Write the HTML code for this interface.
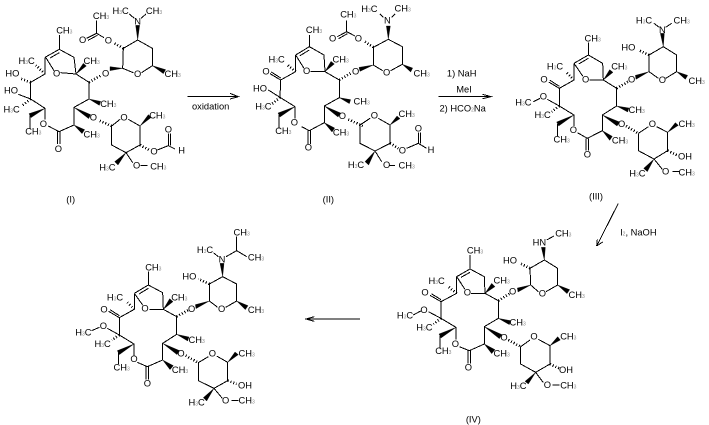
<!DOCTYPE html>
<html><head><meta charset="utf-8"><style>
html,body{margin:0;padding:0;background:#fff;width:709px;height:425px;overflow:hidden}
svg{display:block}
text{font-family:"Liberation Sans",sans-serif;font-size:28px;fill:#000;text-anchor:middle;dominant-baseline:central}
.s{font-size:15px;fill:#888}
.b{fill:none;stroke:#000;stroke-width:3;shape-rendering:crispEdges}
.h{fill:none;stroke:#000;stroke-width:8;stroke-dasharray:3 6;shape-rendering:crispEdges}
.w{fill:#000;stroke:#000;stroke-width:1}
</style></head><body>
<svg width="709" height="425" viewBox="0 0 2127 1275" xmlns="http://www.w3.org/2000/svg">

<!-- I -->
<g>
<path class="b" d="M178 105L178 148L135 172M178 158L150 174M178 148L222 172L228 222L182 218M137 172L162 212M135 172L135 222L92 247L92 297L135 325L135 358M145 378L177 395L222 375L222 322L267 297L267 247L228 222M173 395V432M180 395V432M92 297L55 283M90 347L90 385M290 100L290 62M290 100L312 113M290 100L260 115M292 106L264 121M368 205L370 145L413 120L457 145L457 197L425 218M400 218L368 205M403 55L388 42M423 55L438 42M335 378L360 358M385 358L420 378L420 435L378 458L335 435L335 378M378 458L398 488M505 437L505 400M512 437L512 400M505 437L525 447M505 437L472 450M422 497L442 497"/>
<path class="h" d="M135 222L108 196M92 247L60 235M92 297L65 318M267 247L305 225M370 145L340 128M335 378L298 362M420 435L447 450"/>
<path class="w" d="M228 222L250 190L259 198ZM135 325L87 341L93 353ZM222 375L246 401L254 389ZM222 322L266 356L272 344ZM267 297L298 316L302 304ZM330 212L368 205L330 200ZM407 76L419 76L413 120ZM457 197L490 221L497 209ZM420 378L445 344L454 352ZM378 458L344 485L354 495Z"/>
<text x="193" y="92">CH<tspan class="s" dy="6">3</tspan></text>
<text x="275" y="183">CH<tspan class="s" dy="6">3</tspan></text>
<text x="80" y="183">H<tspan class="s" dy="6">3</tspan><tspan dy="-6">C</tspan></text>
<text x="170" y="220">O</text>
<text x="37" y="220">HO</text>
<text x="33" y="272">HO</text>
<text x="35" y="328">H<tspan class="s" dy="6">3</tspan><tspan dy="-6">C</tspan></text>
<text x="100" y="395">CH<tspan class="s" dy="6">3</tspan></text>
<text x="130" y="372">O</text>
<text x="175" y="447">O</text>
<text x="275" y="403">CH<tspan class="s" dy="6">3</tspan></text>
<text x="325" y="312">CH<tspan class="s" dy="6">3</tspan></text>
<text x="280" y="352">O</text>
<text x="317" y="220">O</text>
<text x="413" y="222">O</text>
<text x="518" y="222">CH<tspan class="s" dy="6">3</tspan></text>
<text x="325" y="122">O</text>
<text x="248" y="120">O</text>
<text x="303" y="48">CH<tspan class="s" dy="6">3</tspan></text>
<text x="413" y="65">N</text>
<text x="362" y="33">H<tspan class="s" dy="6">3</tspan><tspan dy="-6">C</tspan></text>
<text x="462" y="33">CH<tspan class="s" dy="6">3</tspan></text>
<text x="372" y="352">O</text>
<text x="472" y="347">CH<tspan class="s" dy="6">3</tspan></text>
<text x="462" y="455">O</text>
<text x="505" y="388">O</text>
<text x="545" y="452">H</text>
<text x="322" y="503">H<tspan class="s" dy="6">3</tspan><tspan dy="-6">C</tspan></text>
<text x="410" y="497">O</text>
<text x="475" y="500">CH<tspan class="s" dy="6">3</tspan></text>
<text x="212" y="598">(I)</text>
</g>

<!-- II left part -->
<g transform="translate(540,0)">
<path class="b" d="M388 105L388 140L347 165M388 150L360 167M388 140L432 165L435 215L392 215M347 165L372 205M347 165L347 215L302 240L270 221M302 234L274 216M302 240L300 292L265 270M300 292L345 320M297 345L297 385M345 320L345 355M365 380L388 392L433 368L433 318L478 293L478 240L435 215M384 392V432M391 392V432M500 95L500 62M500 95L525 108M500 95L472 110M502 101L476 116"/>
<path class="h" d="M347 215L320 193M300 292L276 312M478 240L515 218M505 358L548 378"/>
<path class="w" d="M435 215L453 184L463 192ZM345 320L294 339L300 351ZM433 368L456 396L464 384ZM433 318L474 351L482 339ZM478 293L508 311L512 299Z"/>
<text x="402" y="90">CH<tspan class="s" dy="6">3</tspan></text>
<text x="482" y="178">CH<tspan class="s" dy="6">3</tspan></text>
<text x="290" y="178">H<tspan class="s" dy="6">3</tspan><tspan dy="-6">C</tspan></text>
<text x="380" y="213">O</text>
<text x="258" y="215">O</text>
<text x="240" y="265">HO</text>
<text x="250" y="320">H<tspan class="s" dy="6">3</tspan><tspan dy="-6">C</tspan></text>
<text x="310" y="393">CH<tspan class="s" dy="6">3</tspan></text>
<text x="343" y="367">O</text>
<text x="385" y="443">O</text>
<text x="483" y="398">CH<tspan class="s" dy="6">3</tspan></text>
<text x="487" y="348">O</text>
<text x="527" y="215">O</text>
<text x="545" y="305">CH<tspan class="s" dy="6">3</tspan></text>
<text x="505" y="43">CH<tspan class="s" dy="6">3</tspan></text>
<text x="458" y="115">O</text>
<text x="535" y="115">O</text>
<text x="445" y="598">(II)</text>
<text x="92" y="320">oxidation</text>
<path class="b" d="M22 290H175M150 280L175 290L150 297"/>
</g>

<!-- II right part -->
<g transform="translate(1080,0)">
<path class="b" d="M85 118L40 142L40 195L68 212M92 212L127 193L127 140L85 118M70 52L60 42M95 52L105 42M0 375L0 430L45 453L90 430L90 375L55 355M30 355L0 375M45 453L65 485M175 430V398M181 430V398M175 430L200 445M175 430L140 445M88 497L105 497"/>
<path class="h" d="M40 142L15 125M90 430L115 445"/>
<path class="w" d="M40 195L-3 202L0 214ZM79 78L91 78L85 118ZM127 193L152 216L158 204ZM90 375L111 348L120 356ZM45 453L15 485L26 495Z"/>
<text x="28" y="27">H<tspan class="s" dy="6">3</tspan><tspan dy="-6">C</tspan></text>
<text x="128" y="25">CH<tspan class="s" dy="6">3</tspan></text>
<text x="82" y="62">N</text>
<text x="80" y="218">O</text>
<text x="185" y="220">CH<tspan class="s" dy="6">3</tspan></text>
<text x="43" y="347">O</text>
<text x="140" y="342">CH<tspan class="s" dy="6">3</tspan></text>
<text x="127" y="452">O</text>
<text x="175" y="385">O</text>
<text x="213" y="450">H</text>
<text x="-12" y="495">H<tspan class="s" dy="6">3</tspan><tspan dy="-6">C</tspan></text>
<text x="80" y="495">O</text>
<text x="140" y="497">CH<tspan class="s" dy="6">3</tspan></text>
<text x="305" y="220">1) NaH</text>
<text x="312" y="268">MeI</text>
<text x="308" y="326">2) HCO<tspan class="s" dy="6">2</tspan><tspan dy="-6">Na</tspan></text>
<path class="b" d="M235 290H393M368 283L393 290L368 296"/>
</g>

<!-- III -->
<g transform="translate(1500,0)">
<path class="b" d="M265 128L265 165L222 190M265 175L236 192M265 165L308 190L310 240L268 240M222 190L248 228M222 190L222 240L178 265L146 246M178 259L150 241M178 265L178 318L142 298M120 295L100 305M178 318L222 345L222 378M232 398L262 415L307 392L307 345L350 318L350 265L310 240M258 415V452M265 415V452M173 372L173 410M447 215L447 165L490 140L530 165L530 215L497 235M475 235L447 215M478 82L462 70M497 82L515 70M415 400L445 380M470 380L503 397L503 452L462 477L415 452L415 400M462 477L487 508M518 515H538"/>
<path class="h" d="M222 240L200 218M178 318L155 335M350 265L385 245M447 165L415 150M378 378L415 400M503 452L530 465"/>
<path class="w" d="M310 240L329 209L339 217ZM222 345L170 366L176 378ZM307 392L329 421L337 409ZM307 345L351 378L359 366ZM350 318L383 336L387 324ZM408 238L447 215L406 226ZM481 100L493 100L490 140ZM530 215L556 238L563 226ZM503 397L526 368L535 376ZM462 477L431 505L442 515Z"/>
<text x="278" y="115">CH<tspan class="s" dy="6">3</tspan></text>
<text x="358" y="200">CH<tspan class="s" dy="6">3</tspan></text>
<text x="165" y="200">H<tspan class="s" dy="6">3</tspan><tspan dy="-6">C</tspan></text>
<text x="257" y="238">O</text>
<text x="132" y="238">O</text>
<text x="130" y="290">O</text>
<text x="70" y="308">H<tspan class="s" dy="6">3</tspan><tspan dy="-6">C</tspan></text>
<text x="128" y="345">H<tspan class="s" dy="6">3</tspan><tspan dy="-6">C</tspan></text>
<text x="185" y="418">CH<tspan class="s" dy="6">3</tspan></text>
<text x="220" y="390">O</text>
<text x="262" y="463">O</text>
<text x="360" y="422">CH<tspan class="s" dy="6">3</tspan></text>
<text x="365" y="372">O</text>
<text x="410" y="330">CH<tspan class="s" dy="6">3</tspan></text>
<text x="395" y="238">O</text>
<text x="487" y="240">O</text>
<text x="590" y="243">CH<tspan class="s" dy="6">3</tspan></text>
<text x="385" y="143">HO</text>
<text x="487" y="90">N</text>
<text x="432" y="62">H<tspan class="s" dy="6">3</tspan><tspan dy="-6">C</tspan></text>
<text x="545" y="62">CH<tspan class="s" dy="6">3</tspan></text>
<text x="457" y="372">O</text>
<text x="560" y="372">CH<tspan class="s" dy="6">3</tspan></text>
<text x="555" y="470">OH</text>
<text x="412" y="520">H<tspan class="s" dy="6">3</tspan><tspan dy="-6">C</tspan></text>
<text x="497" y="515">O</text>
<text x="560" y="517">CH<tspan class="s" dy="6">3</tspan></text>
<text x="288" y="590">(III)</text>
</g>

<!-- IV -->
<g transform="translate(1140,630)">
<path class="b" d="M270 135L270 177L230 200M270 187L243 202M270 177L313 200L315 250L273 250M230 200L255 238M230 200L230 250L183 275L150 256M183 269L154 251M183 275L183 325L145 305M122 303L100 315M183 325L228 352L228 388M238 410L268 422L313 402L313 350L355 325L355 272L315 250M264 422V460M271 422V460M180 378L180 415M452 225L450 175L493 150L533 175L533 225L498 245M475 245L452 225M500 90L522 78M422 410L450 390M475 388L510 407L510 462L467 487L422 462L422 410M467 487L490 518M518 525H538M715 -20L650 108M650 108L652 88M650 108L668 96"/>
<path class="h" d="M230 250L205 230M183 325L160 342M355 272L390 250M450 175L420 160M385 390L422 410M510 462L537 475"/>
<path class="w" d="M315 250L335 220L345 230ZM228 352L177 372L183 384ZM313 402L335 431L345 419ZM313 350L358 386L366 374ZM355 325L388 344L392 332ZM414 246L452 225L412 234ZM484 112L496 112L493 150ZM533 225L561 251L569 239ZM510 407L533 380L541 390ZM467 487L435 514L445 522Z"/>
<text x="285" y="122">CH<tspan class="s" dy="6">3</tspan></text>
<text x="365" y="212">CH<tspan class="s" dy="6">3</tspan></text>
<text x="170" y="213">H<tspan class="s" dy="6">3</tspan><tspan dy="-6">C</tspan></text>
<text x="262" y="248">O</text>
<text x="135" y="248">O</text>
<text x="132" y="300">O</text>
<text x="75" y="317">H<tspan class="s" dy="6">3</tspan><tspan dy="-6">C</tspan></text>
<text x="133" y="353">H<tspan class="s" dy="6">3</tspan><tspan dy="-6">C</tspan></text>
<text x="190" y="423">CH<tspan class="s" dy="6">3</tspan></text>
<text x="226" y="402">O</text>
<text x="265" y="473">O</text>
<text x="365" y="430">CH<tspan class="s" dy="6">3</tspan></text>
<text x="372" y="382">O</text>
<text x="413" y="338">CH<tspan class="s" dy="6">3</tspan></text>
<text x="398" y="245">O</text>
<text x="487" y="250">O</text>
<text x="590" y="255">CH<tspan class="s" dy="6">3</tspan></text>
<text x="390" y="152">HO</text>
<text x="478" y="97">HN</text>
<text x="550" y="70">CH<tspan class="s" dy="6">3</tspan></text>
<text x="462" y="380">O</text>
<text x="565" y="380">CH<tspan class="s" dy="6">3</tspan></text>
<text x="558" y="480">OH</text>
<text x="415" y="528">H<tspan class="s" dy="6">3</tspan><tspan dy="-6">C</tspan></text>
<text x="502" y="525">O</text>
<text x="565" y="527">CH<tspan class="s" dy="6">3</tspan></text>
<text x="280" y="628">(IV)</text>
</g>
<text x="1915" y="697">I<tspan class="s" dy="6">2</tspan><tspan dy="-6">, NaOH</tspan></text>

<!-- V -->
<g transform="translate(150,630)">
<path class="b" d="M295 185L295 225L253 250M295 235L267 252M295 225L338 248L340 298L298 298M253 250L278 285M253 250L253 298L208 323L176 304M208 317L180 299M208 323L208 375L172 355M148 352L125 362M208 375L252 402L252 437M262 457L292 470L338 450L338 400L380 373L380 320L340 298M288 470V508M295 470V508M205 428L205 462M478 273L478 222L518 200L560 222L560 273L527 292M503 292L478 273M505 140L490 128M528 140L560 122L560 80M560 122L590 140M445 458L475 440M500 438L533 457L533 512L492 535L445 512L445 458M492 535L517 565M545 572H565"/>
<path class="h" d="M253 298L230 275M208 375L185 390M380 320L415 300M478 222L445 207M407 437L445 458M533 512L560 522"/>
<path class="w" d="M340 298L359 266L369 275ZM252 402L202 422L208 434ZM338 450L360 479L370 467ZM338 400L381 434L389 422ZM380 373L413 393L417 381ZM438 296L478 273L436 284ZM510 160L522 160L518 200ZM560 273L586 299L594 287ZM533 457L555 426L565 434ZM492 535L460 563L470 573Z"/>
<text x="310" y="172">CH<tspan class="s" dy="6">3</tspan></text>
<text x="388" y="262">CH<tspan class="s" dy="6">3</tspan></text>
<text x="195" y="262">H<tspan class="s" dy="6">3</tspan><tspan dy="-6">C</tspan></text>
<text x="285" y="295">O</text>
<text x="162" y="298">O</text>
<text x="160" y="348">O</text>
<text x="100" y="368">H<tspan class="s" dy="6">3</tspan><tspan dy="-6">C</tspan></text>
<text x="158" y="402">H<tspan class="s" dy="6">3</tspan><tspan dy="-6">C</tspan></text>
<text x="215" y="472">CH<tspan class="s" dy="6">3</tspan></text>
<text x="252" y="447">O</text>
<text x="292" y="520">O</text>
<text x="390" y="480">CH<tspan class="s" dy="6">3</tspan></text>
<text x="393" y="430">O</text>
<text x="440" y="390">CH<tspan class="s" dy="6">3</tspan></text>
<text x="425" y="297">O</text>
<text x="515" y="297">O</text>
<text x="618" y="300">CH<tspan class="s" dy="6">3</tspan></text>
<text x="418" y="200">HO</text>
<text x="516" y="148">N</text>
<text x="465" y="120">H<tspan class="s" dy="6">3</tspan><tspan dy="-6">C</tspan></text>
<text x="575" y="67">CH<tspan class="s" dy="6">3</tspan></text>
<text x="618" y="142">CH<tspan class="s" dy="6">3</tspan></text>
<text x="487" y="430">O</text>
<text x="590" y="430">CH<tspan class="s" dy="6">3</tspan></text>
<text x="585" y="527">OH</text>
<text x="440" y="577">H<tspan class="s" dy="6">3</tspan><tspan dy="-6">C</tspan></text>
<text x="527" y="572">O</text>
<text x="590" y="572">CH<tspan class="s" dy="6">3</tspan></text>
</g>
<path class="b" d="M1080 957H918M943 950L918 957L943 964"/>
</svg>
</body></html>
